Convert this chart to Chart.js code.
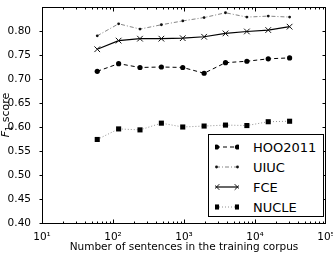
<!DOCTYPE html>
<html>
<head>
<meta charset="utf-8">
<script src="https://cdn.jsdelivr.net/npm/chart.js@4"></script>
<style>
  html, body { margin: 0; padding: 0; background: #fff; overflow: hidden; }
  #wrap { position: relative; width: 333px; height: 260px; }
  #legend {
    position: absolute; left: 208px; top: 134px; width: 114px; height: 81px;
    border: 1px solid #000; background: #fff;
    font-family: "DejaVu Sans", sans-serif; font-size: 13px; color: #000;
  }
  #legend .row { position: absolute; left: 0; height: 20px; display: flex; align-items: center; }
  #legend svg { margin-left: 6px; margin-right: 14px; }
</style>
</head>
<body>
<div id="wrap">
  <canvas id="f1Chart" width="333" height="260"></canvas>
  <div id="legend"></div>
</div>
<script>
// training set sizes (number of sentences)
const sizes = [60, 120, 240, 480, 960, 1920, 3840, 7680, 15360, 30720];

const hoo2011 = [0.716, 0.732, 0.724, 0.725, 0.724, 0.712, 0.734, 0.737, 0.742, 0.744];
const uiuc    = [0.790, 0.815, 0.804, 0.813, 0.821, 0.828, 0.838, 0.829, 0.831, 0.829];
const fce     = [0.762, 0.780, 0.784, 0.784, 0.785, 0.788, 0.795, 0.799, 0.802, 0.809];
const nucle   = [0.574, 0.596, 0.594, 0.608, 0.600, 0.602, 0.604, 0.603, 0.611, 0.612];

const seriesNames = ["HOO2011", "UIUC", "FCE", "NUCLE"];
const xTickValues = [10, 100, 1000, 10000, 100000];
const yTickMin = 0.40, yTickMax = 0.85, yTickStep = 0.05;

const xTitle = "Number of sentences in the training corpus";
const FONT = '"DejaVu Sans", sans-serif';
const sup = ["⁰", "¹", "²", "³", "⁴", "⁵"];

const toPoints = vals => vals.map((v, i) => ({ x: sizes[i], y: v }));

// matplotlib-like frame: full box, inward x ticks (major+minor), y ticks pointing left
const frameTicks = {
  id: "frameTicks",
  afterDraw(chart) {
    const { ctx, chartArea: a, scales: { x, y } } = chart;
    const L = Math.round(a.left) + 0.5, R = Math.round(a.right) - 0.5;
    const T = Math.round(a.top) + 0.5, B = Math.round(a.bottom) + 0.5;
    ctx.save();
    ctx.strokeStyle = "#000";
    ctx.lineWidth = 1;
    ctx.strokeRect(L, T, R - L, B - T);
    ctx.beginPath();
    for (let d = 10; d < 100000; d *= 10) {
      for (let k = 1; k <= 9; k++) {
        const v = d * k;
        const px = Math.round(x.getPixelForValue(v)) + 0.5;
        const len = k === 1 ? 4 : 2;
        ctx.moveTo(px, B); ctx.lineTo(px, B - len);
        ctx.moveTo(px, T); ctx.lineTo(px, T + len);
      }
    }
    for (let v = yTickMin; v < yTickMax - 0.001; v += yTickStep) {
      const py = Math.round(y.getPixelForValue(v)) + 0.5;
      ctx.moveTo(L, py); ctx.lineTo(L - 3, py);
      ctx.moveTo(R, py); ctx.lineTo(R - 3, py);
    }
    ctx.stroke();

    // y title: italic F with subscript 1, then "score"
    ctx.translate(9, 115);
    ctx.rotate(-Math.PI / 2);
    ctx.fillStyle = "#000";
    ctx.textBaseline = "alphabetic";
    const partF = "F", part1 = "1", partS = " score";
    ctx.font = "italic 11px " + FONT;
    const wF = ctx.measureText(partF).width;
    ctx.font = "8px " + FONT;
    const w1 = ctx.measureText(part1).width;
    ctx.font = "11px " + FONT;
    const wS = ctx.measureText(partS).width;
    let cx = -(wF + w1 + wS) / 2;
    ctx.font = "italic 11px " + FONT;
    ctx.fillText(partF, cx, 0); cx += wF;
    ctx.font = "8px " + FONT;
    ctx.fillText(part1, cx, 2.5); cx += w1;
    ctx.font = "11px " + FONT;
    ctx.fillText(partS, cx, 0);
    ctx.restore();
  }
};

const ctx = document.getElementById("f1Chart");
const chart = new Chart(ctx, {
  type: "line",
  data: {
    datasets: [
      { label: seriesNames[0], data: toPoints(hoo2011), borderColor: "#000", borderWidth: 1, borderDash: [4, 3],
        pointStyle: "circle", pointRadius: 2.6, pointBackgroundColor: "#000", pointBorderColor: "#000", pointBorderWidth: 0 },
      { label: seriesNames[1], data: toPoints(uiuc), borderColor: "#666", borderWidth: 0.8, borderDash: [4, 2, 1, 2],
        pointStyle: "circle", pointRadius: 1.4, pointBackgroundColor: "#111", pointBorderColor: "#111", pointBorderWidth: 0 },
      { label: seriesNames[2], data: toPoints(fce), borderColor: "#000", borderWidth: 1.2, borderDash: [],
        pointStyle: "crossRot", pointRadius: 4, pointBorderColor: "#111", pointBorderWidth: 1, pointBackgroundColor: "#111" },
      { label: seriesNames[3], data: toPoints(nucle), borderColor: "#777", borderWidth: 0.8, borderDash: [1, 2],
        pointStyle: "rect", pointRadius: 3.6, pointBackgroundColor: "#000", pointBorderColor: "#000", pointBorderWidth: 0 }
    ]
  },
  options: {
    responsive: false,
    animation: false,
    devicePixelRatio: 1,
    layout: { padding: { top: 7, right: 7, bottom: 0, left: 0 } },
    plugins: { legend: { display: false }, tooltip: { enabled: false } },
    elements: { line: { tension: 0 } },
    scales: {
      x: {
        type: "logarithmic",
        min: 10, max: 100000,
        afterBuildTicks: s => { s.ticks = xTickValues.map(v => ({ value: v, major: true })); },
        afterFit: s => { s.height = 37; s.paddingLeft = 0; s.paddingRight = 0; },
        ticks: {
          autoSkip: false, maxRotation: 0, padding: 0, color: "#000",
          font: { family: FONT, size: 10.5 },
          callback: v => "10" + sup[Math.round(Math.log10(v))]
        },
        grid: { display: false },
        border: { display: false },
        title: { display: true, text: xTitle, color: "#000", font: { family: FONT, size: 10.5 }, padding: { top: 0, bottom: 6 } }
      },
      y: {
        min: yTickMin, max: yTickMax,
        afterFit: s => { s.width = 42; s.paddingTop = 0; s.paddingBottom = 0; },
        ticks: {
          stepSize: yTickStep, padding: 3, color: "#000",
          font: { family: FONT, size: 10.5 },
          callback: v => (v > yTickMax - 0.01 ? "" : v.toFixed(2))
        },
        grid: { display: false },
        border: { display: false }
      }
    }
  },
  plugins: [frameTicks]
});

// legend built from the datasets: sample line with a marker at both ends
function markerSvg(ds, cx, cy) {
  if (ds.pointStyle === "circle") return `<circle cx="${cx}" cy="${cy}" r="${ds.pointRadius}" fill="${ds.pointBackgroundColor}"/>`;
  if (ds.pointStyle === "rect") { const h = ds.pointRadius * Math.SQRT1_2; return `<rect x="${cx - h}" y="${cy - h}" width="${2 * h}" height="${2 * h}" fill="${ds.pointBackgroundColor}"/>`; }
  const h = ds.pointRadius * Math.SQRT1_2;
  return `<path d="M${cx - h} ${cy - h}L${cx + h} ${cy + h}M${cx - h} ${cy + h}L${cx + h} ${cy - h}" stroke="${ds.pointBorderColor}" stroke-width="1"/>`;
}
const legendEl = document.getElementById("legend");
chart.data.datasets.forEach((ds, i) => {
  const row = document.createElement("div");
  row.className = "row";
  row.style.top = (2 + i * 20) + "px";
  const dash = ds.borderDash.length ? ` stroke-dasharray="${ds.borderDash.join(" ")}"` : "";
  row.innerHTML = `<svg width="24" height="10"><line x1="1" y1="5" x2="23" y2="5" stroke="${ds.borderColor}" stroke-width="${ds.borderWidth}"${dash}/>` +
    markerSvg(ds, 1.5, 5) + markerSvg(ds, 22.5, 5) + `</svg><span>${ds.label}</span>`;
  legendEl.appendChild(row);
});
</script>
</body>
</html>
